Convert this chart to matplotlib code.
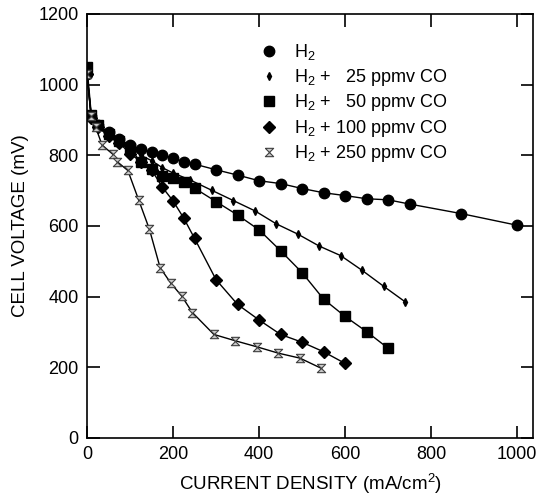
import numpy as np
import matplotlib
matplotlib.use('Agg')
import matplotlib.pyplot as plt
from matplotlib.lines import Line2D

plt.rcParams['font.family'] = ['Liberation Sans', 'DejaVu Sans']
plt.rcParams['mathtext.fontset'] = 'custom'
plt.rcParams['mathtext.rm'] = 'Liberation Sans'
plt.rcParams['mathtext.it'] = 'Liberation Sans:italic'

# current density (mA/cm2) and cell voltage (mV) for each feed
h2_x = [0, 10, 25, 50, 75, 100, 125, 150, 175, 200, 225, 250, 300, 350, 400, 450, 500, 550, 600, 650, 700, 750, 870, 1000]
h2_y = [1030, 910, 885, 865, 845, 829, 817, 809, 801, 792, 782, 775, 759, 744, 728, 720, 706, 694, 686, 677, 674, 662, 635, 602]

co25_x = [0, 10, 25, 50, 75, 100, 125, 150, 175, 200, 240, 290, 340, 390, 440, 490, 540, 590, 640, 690, 740]
co25_y = [1030, 905, 885, 860, 845, 825, 800, 785, 765, 750, 730, 701, 672, 643, 606, 577, 543, 516, 474, 429, 385]

co50_x = [0, 10, 25, 50, 75, 100, 125, 150, 175, 200, 225, 250, 300, 350, 400, 450, 500, 550, 600, 650, 700]
co50_y = [1050, 915, 885, 860, 840, 820, 780, 760, 740, 735, 725, 707, 669, 631, 589, 530, 468, 393, 344, 301, 254]

co100_x = [0, 10, 25, 50, 75, 100, 125, 150, 175, 200, 225, 250, 300, 350, 400, 450, 500, 550, 600]
co100_y = [1030, 905, 880, 855, 835, 805, 782, 759, 710, 671, 622, 565, 448, 378, 334, 293, 271, 244, 211]

co250_x = [0, 10, 20, 35, 60, 70, 95, 120, 145, 170, 195, 220, 245, 295, 345, 395, 445, 495, 545]
co250_y = [1030, 910, 880, 829, 803, 782, 757, 674, 591, 482, 438, 402, 355, 293, 275, 258, 240, 226, 197]

labels = [r'$\mathrm{H_2}$',
          r'$\mathrm{H_2}$ + ' + '\u200725 ppmv CO',
          r'$\mathrm{H_2}$ + ' + '\u200750 ppmv CO',
          r'$\mathrm{H_2}$ + 100 ppmv CO',
          r'$\mathrm{H_2}$ + 250 ppmv CO']

hourglass = [(-1, 1), (1, 1), (-1, -1), (1, -1), (-1, 1)]

styles = [dict(marker='o', ms=7.5),
          dict(marker='d', ms=4),
          dict(marker='s', ms=6.5),
          dict(marker='D', ms=6.5),
          dict(marker=hourglass, ms=6, mfc='#c8c8c8', mec='#404040', mew=0.8)]

fig = plt.figure(figsize=(5.39, 4.98), dpi=100)
ax = fig.add_axes([0.1614, 0.1205, 0.8276, 0.8515])

series = [(h2_x, h2_y), (co25_x, co25_y), (co50_x, co50_y), (co100_x, co100_y), (co250_x, co250_y)]
handles = []
for (xs, ys), st, lab in zip(series, styles, labels):
    kw = dict(mfc='black', mec='black')
    kw.update(st)
    ax.plot(xs, ys, color='black', lw=1, **kw)
    handles.append(Line2D([], [], ls='none', **kw))

ax.set_xlim(0, 1037)
ax.set_ylim(0, 1200)
ax.set_xticks([0, 200, 400, 600, 800, 1000])
ax.set_yticks([0, 200, 400, 600, 800, 1000, 1200])
ax.tick_params(direction='in', length=9, width=1.2, labelsize=13, top=True, right=True, pad=6)
for s in ax.spines.values():
    s.set_linewidth(1.2)

ax.set_xlabel('CURRENT DENSITY (mA/cm$^2$)', fontsize=13.5, labelpad=6)
ax.set_ylabel('CELL VOLTAGE (mV)', fontsize=13.5, labelpad=7)

ax.legend(handles, labels, loc='upper left', bbox_to_anchor=(0.372, 0.95), frameon=False, fontsize=13,
          handlelength=1.0, handletextpad=0.9, labelspacing=0.25, borderaxespad=0)

fig.savefig('out.png', dpi=100)
